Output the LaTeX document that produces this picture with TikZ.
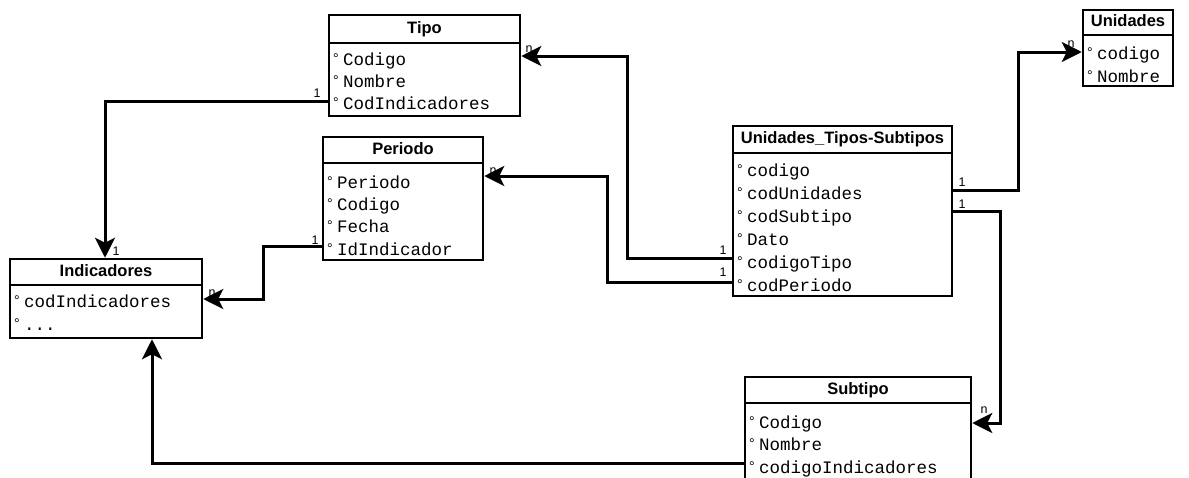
\documentclass[tikz,border=0pt]{standalone}
\usepackage{fontspec}
\setmainfont{Liberation Sans}
\newfontfamily\monof{Liberation Mono}
\usetikzlibrary{fit,arrows.meta,calc}
\newcommand{\dg}{\makebox[10pt][l]{\raisebox{2pt}{\fontsize{14}{14}\selectfont\rmfamily °}}}
\newcommand{\Ent}[7]{%
  \node[ebox, fit={(#2,#3)(#4,#5)}] (#1) {};
  \draw[eline] (#1.west |- 0,#6) -- (#1.east |- 0,#6);
  \node[etitle] (#1-t) at ($(#1.north)!0.5!(#1.north |- 0,#6)$) {#7};}
\begin{document}
\begin{tikzpicture}[x=1pt,y=-1pt,
  ebox/.style={draw, line width=2.5pt, inner sep=0pt},
  eline/.style={line width=2.5pt},
  etitle/.style={font=\fontsize{16.5}{17}\selectfont\bfseries, inner sep=0pt, text height=12pt, text depth=2pt},
  row/.style={anchor=west, inner sep=0pt, text height=12pt, text depth=2pt, font=\fontsize{17.5}{18}\selectfont\monof},
  conn/.style={line width=3pt, -{Stealth[length=20pt,width=20pt,inset=5pt]}},
  card/.style={font=\fontsize{12.5}{12}\selectfont, inner sep=0pt}]
\clip (0,0) rectangle (1189,477);
\fill[white] (0,0) rectangle (1189,477);
% Tipo
\Ent{tipo}{329}{15}{520}{116}{43}{Tipo}
\node[row] (tipo-1) at (333,60) {\dg Codigo};
\node[row] (tipo-2) at (333,82) {\dg Nombre};
\node[row] (tipo-3) at (333,104) {\dg CodIndicadores};
% Periodo
\Ent{per}{323}{137}{483}{260}{163}{Periodo}
\node[row] (per-1) at (327,183) {\dg Periodo};
\node[row] (per-2) at (327,205) {\dg Codigo};
\node[row] (per-3) at (327,227) {\dg Fecha};
\node[row] (per-4) at (327,250) {\dg IdIndicador};
% Indicadores
\Ent{ind}{10}{259}{202}{338}{285}{Indicadores}
\node[row] (ind-1) at (14,302) {\dg codIndicadores};
\node[row] (ind-2) at (14,325) {\dg ...};
% Unidades_Tipos-Subtipos
\Ent{uts}{733}{126}{952}{296}{153}{Unidades\_Tipos-Subtipos}
\node[row] (uts-1) at (737,171) {\dg codigo};
\node[row] (uts-2) at (737,194) {\dg codUnidades};
\node[row] (uts-3) at (737,217) {\dg codSubtipo};
\node[row] (uts-4) at (737,240) {\dg Dato};
\node[row] (uts-5) at (737,263) {\dg codigoTipo};
\node[row] (uts-6) at (737,286) {\dg codPeriodo};
% Unidades
\Ent{uni}{1083}{10}{1173}{86}{35}{Unidades}
\node[row] (uni-1) at (1087,54) {\dg codigo};
\node[row] (uni-2) at (1087,77) {\dg Nombre};
% Subtipo
\Ent{sub}{745}{377}{971}{500}{403}{Subtipo}
\node[row] (sub-1) at (749,423) {\dg Codigo};
\node[row] (sub-2) at (749,445) {\dg Nombre};
\node[row] (sub-3) at (749,468) {\dg codigoIndicadores};
% connectors
\draw[conn] (tipo.west |- 0,101) -| (ind.north -| 105,0);
\draw[conn] (per.west |- 0,246) -- (263,246) |- (ind.east |- 0,299);
\draw[conn] (uts.west |- 0,258) -- (627,258) |- (tipo.east |- 0,56);
\draw[conn] (uts.west |- 0,282) -- (607,282) |- (per.east |- 0,176);
\draw[conn] (uts.east |- 0,190) -- (1018,190) |- (uni.west |- 0,52);
\draw[conn] (uts.east |- 0,211) -- (1000,211) |- (sub.east |- 0,423);
\draw[conn] (sub.west |- 0,463) -| (ind.south -| 152,0);
% cardinalities
\node[card] (c1a) at (317,93) {1};
\node[card] (c1b) at (116,251) {1};
\node[card] (c2a) at (315,240) {1};
\node[card] (c2b) at (212,293) {n};
\node[card] (c3a) at (723,250) {1};
\node[card] (c3b) at (529,49) {n};
\node[card] (c4a) at (723,272) {1};
\node[card] (c4b) at (493,171) {n};
\node[card] (c5a) at (962,182) {1};
\node[card] (c5b) at (1071,44) {n};
\node[card] (c6a) at (962,204) {1};
\node[card] (c6b) at (984,410) {n};
\end{tikzpicture}
\end{document}
